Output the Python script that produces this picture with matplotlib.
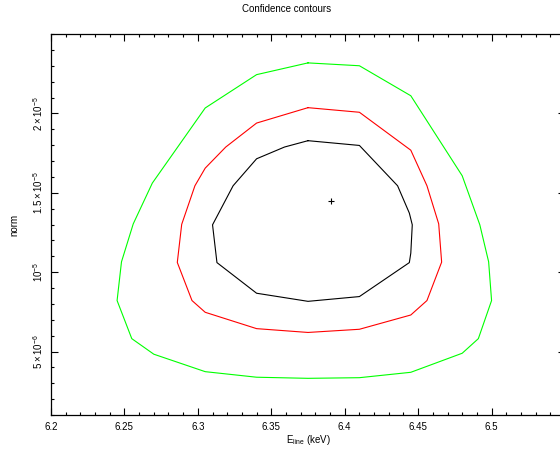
import matplotlib
matplotlib.use("Agg")
import matplotlib.pyplot as plt
from matplotlib.ticker import MultipleLocator, FixedLocator

plt.rcParams['font.family'] = ['Liberation Sans', 'DejaVu Sans']
plt.rcParams['mathtext.fontset'] = 'custom'
plt.rcParams['mathtext.rm'] = 'Liberation Sans'
plt.rcParams['mathtext.it'] = 'Liberation Sans'

# contour vertices (x in keV, y in units of 1e-5)
green_x = [6.375, 6.410, 6.445, 6.480, 6.492, 6.498, 6.500, 6.491, 6.480, 6.445, 6.410,
           6.375, 6.340, 6.305, 6.270, 6.255, 6.245, 6.248, 6.256, 6.269, 6.305, 6.340, 6.375]
green_y = [2.318, 2.300, 2.111, 1.607, 1.298, 1.065, 0.821, 0.581, 0.489, 0.369, 0.335,
           0.331, 0.338, 0.373, 0.483, 0.581, 0.821, 1.065, 1.304, 1.561, 2.034, 2.244, 2.318]

red_x = [6.375, 6.410, 6.445, 6.456, 6.464, 6.466, 6.456, 6.445, 6.410, 6.375, 6.340,
         6.305, 6.296, 6.286, 6.289, 6.298, 6.305, 6.319, 6.340, 6.375]
red_y = [2.036, 2.007, 1.768, 1.544, 1.304, 1.063, 0.821, 0.730, 0.640, 0.620, 0.644,
         0.747, 0.821, 1.061, 1.301, 1.544, 1.655, 1.788, 1.939, 2.036]

black_x = [6.375, 6.410, 6.436, 6.444, 6.446, 6.445, 6.444, 6.410, 6.375, 6.340,
           6.313, 6.310, 6.324, 6.340, 6.359, 6.375]
black_y = [1.828, 1.798, 1.544, 1.372, 1.298, 1.120, 1.060, 0.846, 0.816, 0.867,
           1.060, 1.298, 1.544, 1.714, 1.788, 1.828]

best_x = [6.391]
best_y = [1.445]

xticks = [6.2, 6.25, 6.3, 6.35, 6.4, 6.45, 6.5, 6.55]
xtick_labels = ['6.2', '6.25', '6.3', '6.35', '6.4', '6.45', '6.5', '']
yticks = [0.5, 1.0, 1.5, 2.0]
ytick_labels = [r'$5\times10^{-6}$', r'$10^{-5}$', r'$1.5\times10^{-5}$', r'$2\times10^{-5}$']

fig = plt.figure(figsize=(5.6, 4.49), dpi=100)
ax = fig.add_axes([51/560, 34/449, 514/560, 381/449])

ax.plot(green_x, green_y, color='#00ff00', lw=0.8)
ax.plot(red_x, red_y, color='#ff0000', lw=0.8)
ax.plot(black_x, black_y, color='black', lw=0.8)
ax.plot(best_x, best_y, marker='+', color='black', ms=5, mew=0.8, ls='none')

ax.set_xlim(6.2, 6.55)
ax.set_ylim(0.1, 2.5)

ax.xaxis.set_major_locator(FixedLocator(xticks))
ax.set_xticklabels(xtick_labels)
ax.xaxis.set_minor_locator(MultipleLocator(0.01))
ax.yaxis.set_major_locator(FixedLocator(yticks))
ax.set_yticklabels(ytick_labels, rotation=90, va='center')
ax.yaxis.set_minor_locator(MultipleLocator(0.1))

ax.tick_params(which='both', direction='in', top=True, right=True, labelsize=7, width=0.8)
ax.tick_params(which='major', length=5, pad=5)
ax.tick_params(which='minor', length=2.5)
ax.tick_params(axis='y', which='major', pad=4)
for s in ax.spines.values():
    s.set_linewidth(0.9)

ax.set_xlabel(r'E$_{\rm line}$ (keV)', fontsize=7, labelpad=1)
ax.set_ylabel('norm', fontsize=7, labelpad=9)
fig.text(287/560, 1 - 9/449, 'Confidence contours', fontsize=7, ha='center', va='center')

fig.savefig('out.png', dpi=100)
